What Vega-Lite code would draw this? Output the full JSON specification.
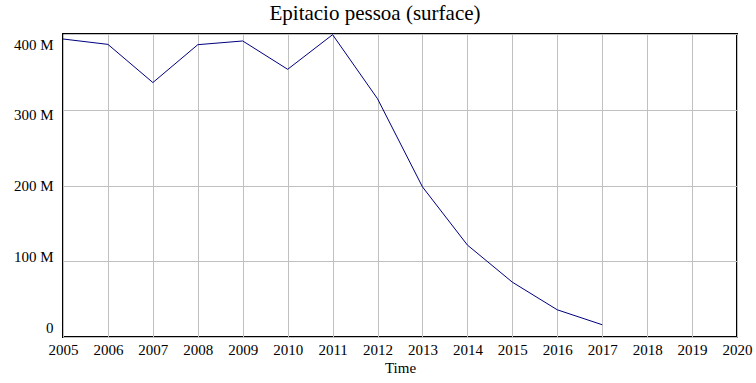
{
  "$schema": "https://vega.github.io/schema/vega-lite/v6.json",
  "width": 674,
  "height": 303,
  "autosize": {"type": "none"},
  "padding": {"left": 63, "top": 34, "right": 19, "bottom": 46},
  "background": "white",
  "title": {
    "text": "Epitacio pessoa (surface)",
    "font": "Liberation Serif",
    "fontSize": 21,
    "fontWeight": "normal",
    "color": "black",
    "anchor": "middle",
    "dx": -25,
    "offset": 9
  },
  "data": {
    "values": [
      {"year": 2005, "surface": 393400000},
      {"year": 2006, "surface": 386300000},
      {"year": 2007, "surface": 335900000},
      {"year": 2008, "surface": 385900000},
      {"year": 2009, "surface": 390800000},
      {"year": 2010, "surface": 353400000},
      {"year": 2011, "surface": 399100000},
      {"year": 2012, "surface": 314500000},
      {"year": 2013, "surface": 198200000},
      {"year": 2014, "surface": 121400000},
      {"year": 2015, "surface": 72400000},
      {"year": 2016, "surface": 35900000},
      {"year": 2017, "surface": 16200000}
    ]
  },
  "mark": {"type": "line", "color": "#000080", "strokeWidth": 1},
  "encoding": {
    "x": {
      "field": "year",
      "type": "quantitative",
      "scale": {"domain": [2005, 2020], "nice": false, "zero": false},
      "axis": {
        "values": [2005, 2006, 2007, 2008, 2009, 2010, 2011, 2012, 2013, 2014, 2015, 2016, 2017, 2018, 2019, 2020],
        "format": "d",
        "title": "Time",
        "titleFont": "Liberation Serif",
        "titleFontSize": 15,
        "titleFontWeight": "normal",
        "titleColor": "black",
        "titlePadding": 3,
        "labelFont": "Liberation Serif",
        "labelFontSize": 15,
        "labelColor": "black",
        "labelFlush": false,
        "labelPadding": 5,
        "labelOverlap": false,
        "ticks": false,
        "domain": false,
        "grid": true,
        "gridColor": "#c0c0c0",
        "gridWidth": 1
      }
    },
    "y": {
      "field": "surface",
      "type": "quantitative",
      "scale": {"domain": [0, 400000000], "nice": false},
      "axis": {
        "values": [0, 100000000, 200000000, 300000000, 400000000],
        "labelExpr": "datum.value == 0 ? '0' : (datum.value / 1000000) + ' M'",
        "title": null,
        "labelFont": "Liberation Serif",
        "labelFontSize": 15,
        "labelColor": "black",
        "labelPadding": 10,
        "labelBaseline": "middle",
        "labelOffset": {"expr": "-9.6 + 0.049 * datum.value / 1000000"},
        "labelFlush": false,
        "labelOverlap": false,
        "ticks": false,
        "domain": false,
        "grid": true,
        "gridColor": "#c0c0c0",
        "gridWidth": 1
      }
    }
  },
  "config": {
    "view": {"stroke": "black", "strokeWidth": 2}
  }
}
